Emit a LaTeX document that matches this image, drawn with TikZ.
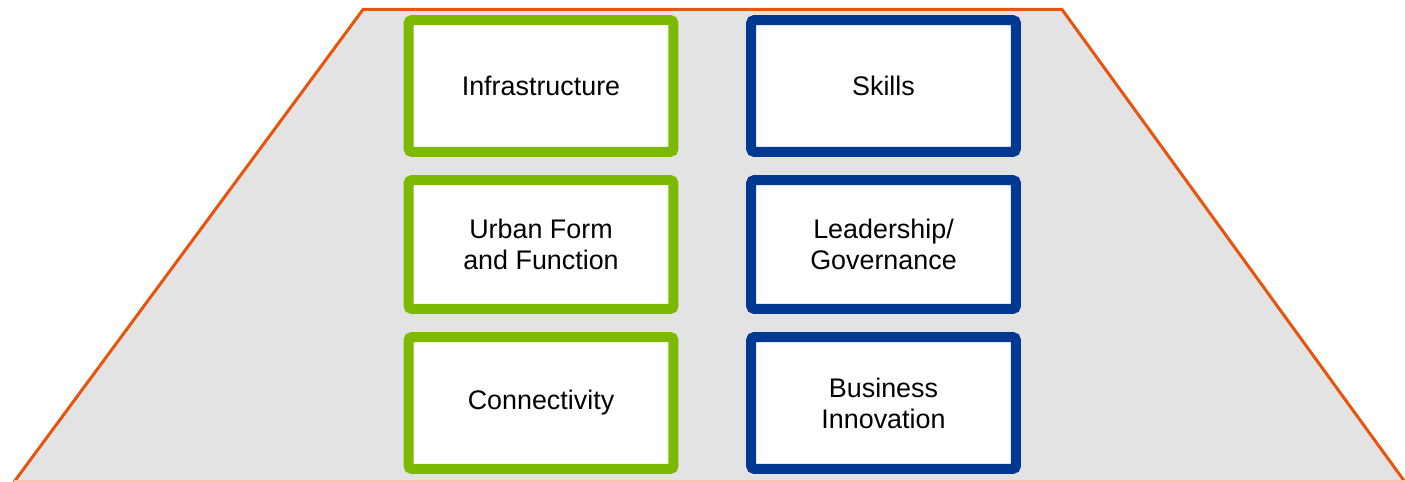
\documentclass[tikz,border=0pt]{standalone}
\usepackage{fontspec}
\setmainfont{Liberation Sans}
\definecolor{mygreen}{HTML}{7DB900}
\definecolor{myblue}{HTML}{003892}
\definecolor{mygray}{HTML}{E2E3E2}
\definecolor{myorange}{HTML}{E9540D}

\begin{document}
\begin{tikzpicture}
				[x=0.02cm,y=-0.02cm, every node/.style={rectangle,fill=white,rounded corners=2pt,line width=0.2cm,minimum width=5.3cm,align=center,font=\fontsize{15.3}{17.6}\selectfont}]
				\useasboundingbox (0,0) rectangle (1405,482);
				\fill[mygray] (14,482) -- (363,9.5) -- (1062,9.5) -- (1405,482) -- cycle;
				\draw[myorange,line width=0.06cm] (14,482) -- (363,9.5) -- (1062,9.5) -- (1405,482);
				\draw[myorange!35,line width=0.04cm] (14,481) -- (1405,481);
				\node[draw=mygreen,minimum height=2.64cm] (1) at (541,86)  {Infrastructure};
				\node[draw=mygreen,minimum height=2.58cm] (2) at (541,244.5)  {Urban Form\\and Function};
				\node[draw=mygreen,minimum height=2.64cm] (3) at (541,403)  {Connectivity};
				\node[draw=myblue,minimum height=2.64cm] (4) at (883.5,86)  {Skills};
				\node[draw=myblue,minimum height=2.58cm] (5) at (883.5,244.5)  {Leadership/\\Governance};
				\node[draw=myblue,minimum height=2.64cm] (6) at (883.5,403)  {Business\\Innovation};
				\end{tikzpicture}
\end{document}
